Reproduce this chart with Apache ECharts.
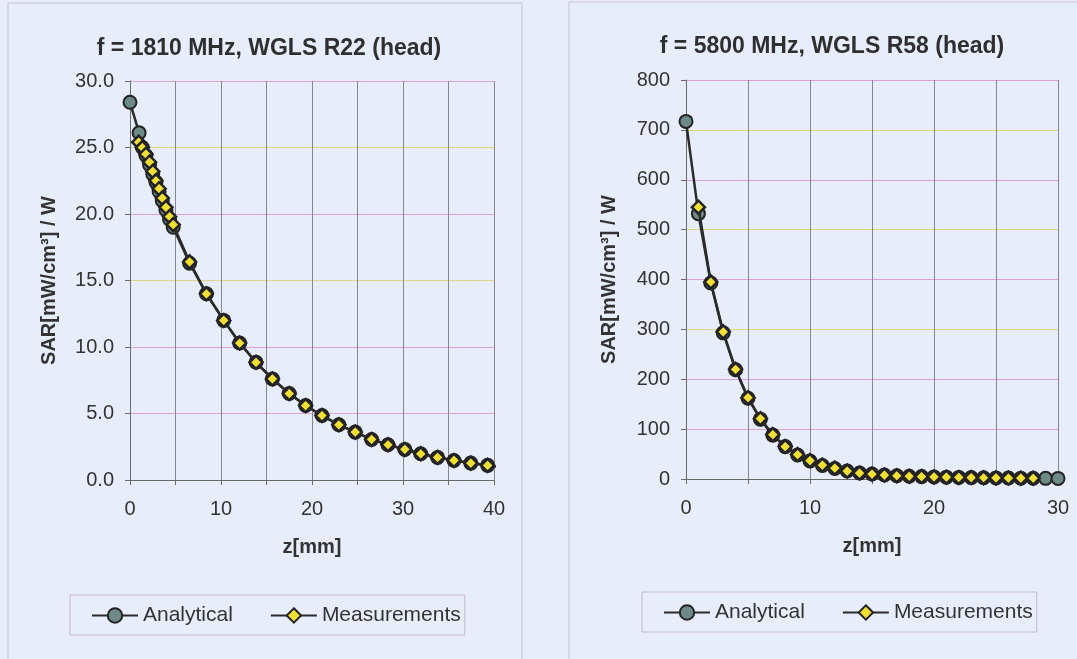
<!DOCTYPE html>
<html>
<head>
<meta charset="utf-8">
<script src="https://cdn.jsdelivr.net/npm/echarts@6/dist/echarts.min.js"></script>
<style>
html,body{margin:0;padding:0;background:#e7edfb;}
#c{width:1077px;height:659px;}
</style>
</head>
<body>
<div id="c"></div>
<script>
// ---- Left chart: f = 1810 MHz ----
const leftTitle = 'f = 1810 MHz, WGLS R22 (head)';
const leftAnaZ = [0, 1.0, 1.35, 1.75, 2.15, 2.5, 2.85, 3.2, 3.55, 3.95, 4.35, 4.75, 6.55, 8.4, 10.3, 12.05, 13.85, 15.65, 17.5, 19.3, 21.1, 22.95, 24.75, 26.55, 28.35, 30.2, 31.95, 33.8, 35.6, 37.45, 39.3, 40.8];
const leftAnaV = [28.4, 26.1, 25.0, 24.4, 23.7, 23.0, 22.4, 21.7, 21.0, 20.3, 19.6, 19.0, 16.3, 14.0, 12.0, 10.3, 8.85, 7.6, 6.5, 5.6, 4.85, 4.15, 3.6, 3.05, 2.65, 2.3, 1.97, 1.7, 1.47, 1.27, 1.1, 0.95];
const leftMeasZ = [0.95, 1.35, 1.75, 2.15, 2.5, 2.85, 3.2, 3.55, 3.95, 4.35, 4.75, 6.55, 8.4, 10.3, 12.05, 13.85, 15.65, 17.5, 19.3, 21.1, 22.95, 24.75, 26.55, 28.35, 30.2, 31.95, 33.8, 35.6, 37.45, 39.3];
const leftMeasV = [25.4, 25.0, 24.5, 23.9, 23.2, 22.5, 21.9, 21.2, 20.5, 19.8, 19.2, 16.4, 14.0, 12.0, 10.3, 8.85, 7.6, 6.5, 5.6, 4.85, 4.15, 3.6, 3.05, 2.65, 2.3, 1.97, 1.7, 1.47, 1.27, 1.1];

// ---- Right chart: f = 5800 MHz ----
const rightTitle = 'f = 5800 MHz, WGLS R58 (head)';
const rightAnaZ = [0,1,2,3,4,5,6,7,8,9,10,11,12,13,14,15,16,17,18,19,20,21,22,23,24,25,26,27,28,29,30];
const rightAnaV = [717,532,393,293,219,162,120,88,65,48,36,27,21,16,12,10,8,6.5,5.5,4.8,4.2,3.7,3.2,2.8,2.5,2.2,1.9,1.7,1.5,1.3,1.2];
const rightMeasZ = [1,2,3,4,5,6,7,8,9,10,11,12,13,14,15,16,17,18,19,20,21,22,23,24,25,26,27,28];
const rightMeasV = [545,395,295,220,163,121,89,65,49,37,28,22,16,12,10,8,6.5,5.5,4.8,4.2,3.7,3.2,2.8,2.5,2.2,1.9,1.7,1.5];

const seriesNames = ['Analytical', 'Measurements'];
const xName = 'z[mm]';
const yName = 'SAR[mW/cm³] / W';

function pairs(zs, vs, lastNoSymbol) {
  return zs.map((z, i) => {
    if (lastNoSymbol && i === zs.length - 1) return {value: [z, vs[i]], symbol: 'none'};
    return [z, vs[i]];
  });
}

const FONT = 'Liberation Sans, Arial, sans-serif';
const hColors = ['#9a9a9a', '#d9a2dd', '#d9a2dd', '#ddd68a', '#d9a2dd', '#ddd68a', '#d9a2dd', '#ddd68a', '#d9a2dd'];

function xAxis(grid, max) {
  return {
    type: 'value', gridIndex: grid, min: 0, max: max, interval: 5,
    name: xName, nameLocation: 'middle', nameGap: 57,
    nameTextStyle: {fontFamily: FONT, fontSize: 20, fontWeight: 'bold', color: '#333'},
    axisLine: {show: true, lineStyle: {color: '#6a6a6a', width: 1}},
    axisTick: {show: true, length: 5, lineStyle: {color: '#6a6a6a'}},
    axisLabel: {margin: 19, fontFamily: FONT, fontSize: 20, color: '#333',
      formatter: v => (v % 10 === 0 ? String(v) : '')},
    splitLine: {show: true, lineStyle: {color: '#86868e', width: 1}}
  };
}
function yAxis(grid, max, interval, dec, gap) {
  return {
    type: 'value', gridIndex: grid, min: 0, max: max, interval: interval,
    name: yName, nameLocation: 'middle', nameRotate: 90, nameGap: gap,
    nameTextStyle: {fontFamily: FONT, fontSize: 20, fontWeight: 'bold', color: '#333'},
    axisLine: {show: true, onZero: false, lineStyle: {color: '#6a6a6a', width: 1}},
    axisTick: {show: true, length: 5, lineStyle: {color: '#6a6a6a'}},
    axisLabel: {margin: 16, fontFamily: FONT, fontSize: 20, color: '#333',
      formatter: v => v.toFixed(dec)},
    splitLine: {show: true, lineStyle: {color: hColors, width: 1}}
  };
}
function anaSeries(x, y, data) {
  return {
    name: seriesNames[0], type: 'line', xAxisIndex: x, yAxisIndex: y, data: data,
    clip: false, symbol: 'circle', symbolSize: 13,
    lineStyle: {color: '#2b2b2b', width: 2.5},
    itemStyle: {color: '#6d8a88', borderColor: '#232323', borderWidth: 2},
    z: 2
  };
}
function measSeries(x, y, data) {
  return {
    name: seriesNames[1], type: 'line', xAxisIndex: x, yAxisIndex: y, data: data,
    clip: false, symbol: 'diamond', symbolSize: 13,
    lineStyle: {color: '#2b2b2b', width: 2.5},
    itemStyle: {color: '#f1df36', borderColor: '#232323', borderWidth: 2.5},
    z: 3
  };
}
function legend(left, top) {
  return {
    data: seriesNames, left: left, top: top, orient: 'horizontal',
    padding: [10, 4, 9, 21], itemGap: 37, itemWidth: 46, itemHeight: 18,
    borderColor: '#c9b6d2', borderWidth: 1, backgroundColor: 'transparent',
    textStyle: {fontFamily: FONT, fontSize: 21, color: '#333'},
    selectedMode: false
  };
}

const chart = echarts.init(document.getElementById('c'));
chart.setOption({
  backgroundColor: '#e7edfb',
  animation: false,
  graphic: [
    {type: 'rect', shape: {x: 8, y: 3, width: 514, height: 670}, style: {fill: 'none', stroke: '#cdbfd8', lineWidth: 1}},
    {type: 'rect', shape: {x: 569, y: 2, width: 530, height: 670}, style: {fill: 'none', stroke: '#cdbfd8', lineWidth: 1}}
  ],
  title: [
    {text: leftTitle, left: 264, top: 32, textAlign: 'center',
      textStyle: {fontFamily: FONT, fontSize: 23, fontWeight: 'bold', color: '#2f2f2f'}},
    {text: rightTitle, left: 827, top: 30, textAlign: 'center',
      textStyle: {fontFamily: FONT, fontSize: 23, fontWeight: 'bold', color: '#2f2f2f'}}
  ],
  legend: [legend(70, 595), legend(642, 592)],
  grid: [
    {left: 130, right: 583, top: 81, bottom: 179},
    {left: 686, right: 19, top: 80, bottom: 180}
  ],
  xAxis: [xAxis(0, 40), xAxis(1, 30)],
  yAxis: [yAxis(0, 30, 5, 1, 71), yAxis(1, 800, 100, 0, 67)],
  series: [
    anaSeries(0, 0, pairs(leftAnaZ, leftAnaV, true)),
    measSeries(0, 0, pairs(leftMeasZ, leftMeasV)),
    anaSeries(1, 1, pairs(rightAnaZ, rightAnaV)),
    measSeries(1, 1, pairs(rightMeasZ, rightMeasV))
  ]
});
</script>
</body>
</html>
